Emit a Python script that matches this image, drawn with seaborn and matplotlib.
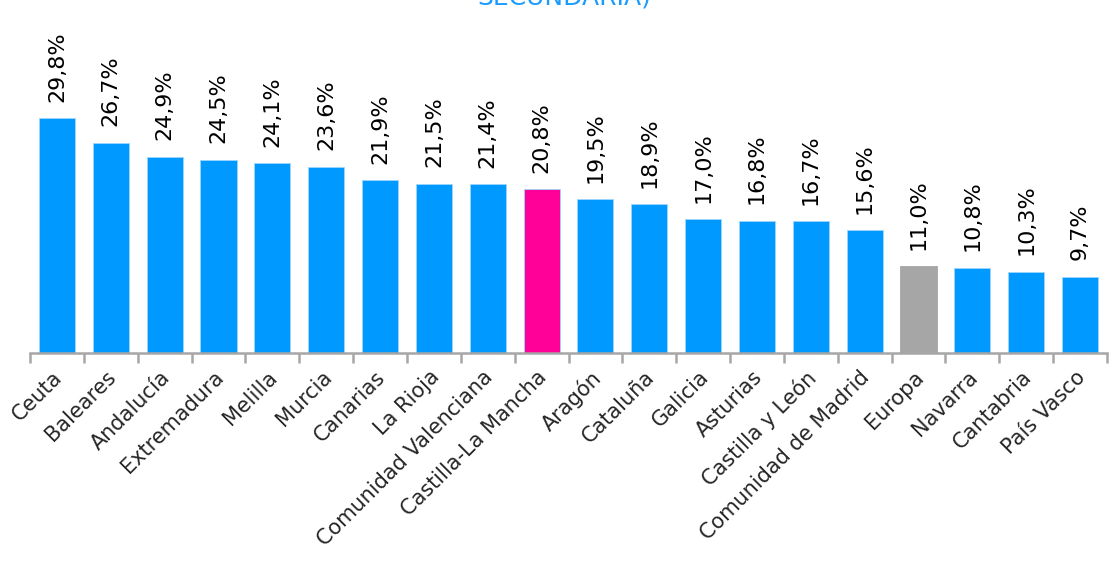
import matplotlib
matplotlib.use("Agg")
import matplotlib.pyplot as plt
import matplotlib.transforms as mtransforms
import seaborn as sns
import pandas as pd
import numpy as np

regiones = ["Ceuta", "Baleares", "Andalucía", "Extremadura", "Melilla", "Murcia",
            "Canarias", "La Rioja", "Comunidad Valenciana", "Castilla-La Mancha",
            "Aragón", "Cataluña", "Galicia", "Asturias", "Castilla y León",
            "Comunidad de Madrid", "Europa", "Navarra", "Cantabria", "País Vasco"]
valores = [29.8, 26.7, 24.9, 24.5, 24.1, 23.6, 21.9, 21.5, 21.4, 20.8,
           19.5, 18.9, 17.0, 16.8, 16.7, 15.6, 11.0, 10.8, 10.3, 9.7]

azul = "#0099FF"
colores = {r: azul for r in regiones}
colores["Castilla-La Mancha"] = "#FF0099"
colores["Europa"] = "#A6A6A6"

df = pd.DataFrame({"region": regiones, "valor": valores})

sns.set_style("white")
plt.rcParams["font.family"] = ["DejaVu Sans"]

fig = plt.figure(figsize=(11.2, 5.68), dpi=100)
ax = fig.add_axes([30/1120, 1-353/568, 1077/1120, 353/568])

sns.barplot(data=df, x="region", y="valor", hue="region", palette=colores,
            legend=False, width=0.67, saturation=1, edgecolor="#9fd6ff",
            linewidth=0.6, ax=ax)
# la barra de Europa sin borde claro
ax.patches[regiones.index("Europa")].set_edgecolor("#A6A6A6")

ax.set_xlim(-0.5, len(regiones) - 0.5)
ax.set_ylim(0, 44.8)

for i, v in enumerate(valores):
    ax.text(i, v + 2.1, f"{v:.1f}%".replace(".", ","), rotation=90,
            ha="center", va="bottom", fontsize=16, color="black")

for s in ["top", "right", "left"]:
    ax.spines[s].set_visible(False)
ax.spines["bottom"].set_color("#A6A6A6")
ax.spines["bottom"].set_linewidth(1.8)

ax.set_yticks([])
ax.set_xlabel("")
ax.set_ylabel("")
ax.set_xticks(np.arange(len(regiones)))
ax.set_xticklabels(regiones, rotation=45, ha="right", rotation_mode="anchor",
                   fontsize=15)
ax.tick_params(axis="x", which="major", length=0, pad=10)
ax.set_xticks(np.arange(-0.5, len(regiones)), minor=True)
ax.tick_params(axis="x", which="minor", bottom=True, length=7, width=1.8,
               color="#A6A6A6")

# desplazar un poco las etiquetas a la izquierda
offset = mtransforms.ScaledTranslation(-5/100, 0, fig.dpi_scale_trans)
for lbl in ax.get_xticklabels():
    lbl.set_transform(lbl.get_transform() + offset)

fig.text(0.504, 1 - 5/568, "SECUNDARIA)", ha="center", va="baseline",
         fontsize=18, color="#1a9cff")

fig.savefig("out.png", dpi=100)
